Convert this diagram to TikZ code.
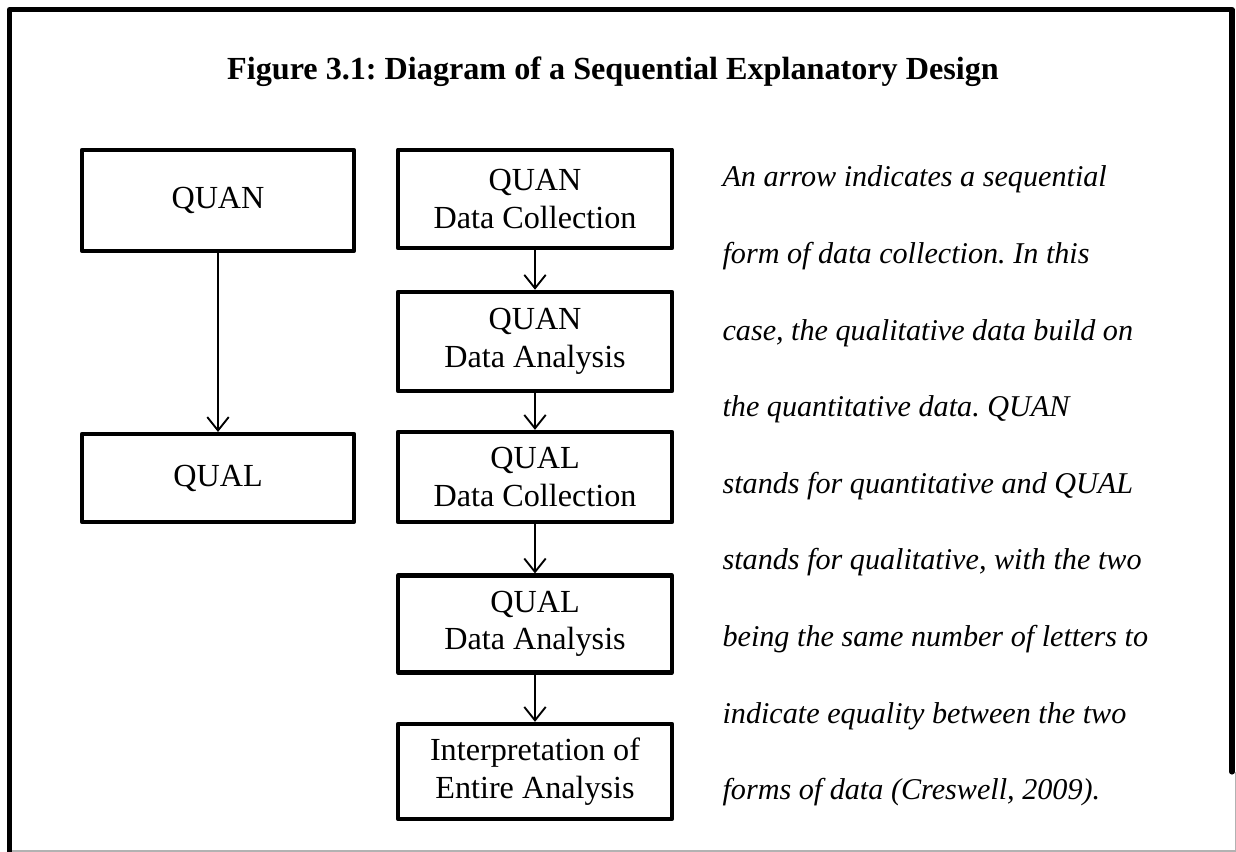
\documentclass[tikz,border=0pt]{standalone}
\usepackage{fontspec}
\setmainfont{Liberation Serif}
\usetikzlibrary{arrows.meta}
\frenchspacing

\begin{document}
\begin{tikzpicture}[x=0.0131cm,y=-0.0131cm]
  \tikzset{ box/.style={draw,line width=1.6pt,line join=round,minimum width=3.59cm,align=center,inner sep=0pt,font=\fontsize{12}{14}\selectfont},
    arr/.style={-{Straight Barb[length=5pt,width=8pt]},line width=0.7pt},
    note/.style={anchor=base west,inner sep=0pt,font=\fontsize{11.25}{14}\selectfont\itshape},
  }
  \useasboundingbox (0,0) rectangle (1236,852);

  % frame
  \draw[line width=1.9pt,line cap=round,line join=round] (9.5,852) -- (9.5,9.5) -- (1232,9.5) -- (1232,772);
  \draw[gray!60,line width=0.5pt] (12,851) -- (1235.5,851) -- (1235.5,772);

  \node[anchor=base,inner sep=0pt,font=\fontsize{12}{14}\selectfont\bfseries] (title) at (613,80) {Figure 3.1: Diagram of a Sequential Explanatory Design};

  % left column
  \node[box,minimum width=3.57cm,minimum height=1.32cm] (quan) at (218,200.5) {QUAN};
  \node[box,minimum width=3.57cm,minimum height=1.15cm] (qual) at (218,478) {QUAL};

  % middle column
  \node[box,minimum height=1.29cm] (quandc) at (535,199) {QUAN\\Data Collection};
  \node[box,minimum height=1.30cm] (quanda) at (535,341.5) {QUAN\\Data Analysis};
  \node[box,minimum height=1.18cm] (qualdc) at (535,477) {QUAL\\Data Collection};
  \node[box,minimum height=1.27cm] (qualda) at (535,624) {QUAL\\Data Analysis};
  \node[box,minimum height=1.245cm] (interp) at (535,771.5) {Interpretation of\\Entire Analysis};

  \draw[arr] (quan) -- (qual);
  \draw[arr] (quandc) -- (quanda);
  \draw[arr] (quanda) -- (qualdc);
  \draw[arr] (qualdc) -- (qualda);
  \draw[arr] (qualda) -- (interp);

  % note
  \foreach \t [count=\i] in {{An arrow indicates a sequential},
    {form of data collection. In this},
    {case, the qualitative data build on},
    {the quantitative data. QUAN},
    {stands for quantitative and QUAL},
    {stands for qualitative, with the two},
    {being the same number of letters to},
    {indicate equality between the two},
    {forms of data (Creswell, 2009).}}
    \node[note] (note\i) at (722,{187+76.6*(\i-1)}) {\t};
\end{tikzpicture}
\end{document}
